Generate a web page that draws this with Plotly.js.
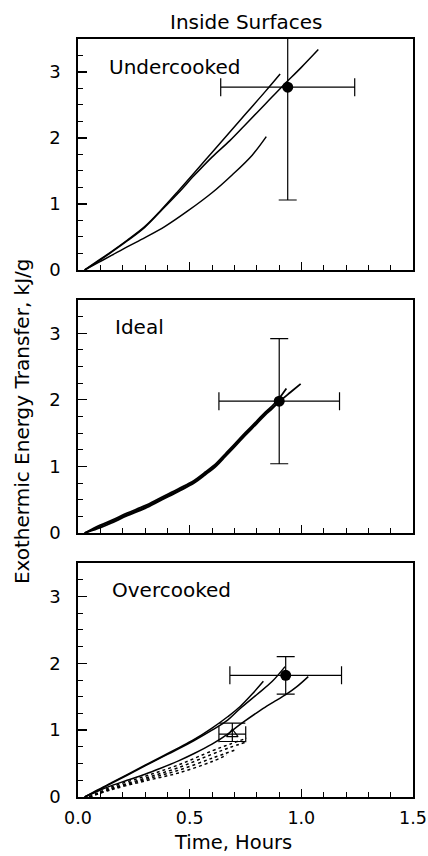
<!DOCTYPE html>
<html>
<head>
<meta charset="utf-8">
<script src="https://cdn.plot.ly/plotly-3.0.1.min.js"></script>
<style>
html,body{margin:0;padding:0;background:#fff;}
#chart{width:428px;height:856px;}
</style>
</head>
<body>
<div id="chart"></div>
<script>
// ---------- Data ----------
const panelNames = ["Undercooked", "Ideal", "Overcooked"];
const xTickVals = [0, 0.5, 1.0, 1.5];
const xTickText = ["0.0", "0.5", "1.0", "1.5"];
const yTickVals = [0, 1, 2, 3];
const yTickText = ["0", "1", "2", "3"];

// Undercooked
const underAx = [0.03, 0.09, 0.15, 0.22, 0.30, 0.37, 0.45, 0.52, 0.60, 0.68, 0.76, 0.84, 0.905];
const underAy = [0.0, 0.14, 0.28, 0.45, 0.66, 0.90, 1.20, 1.47, 1.78, 2.09, 2.40, 2.71, 2.97];
const underBx = [0.03, 0.09, 0.15, 0.22, 0.30, 0.37, 0.45, 0.52, 0.60, 0.68, 0.76, 0.84, 0.92, 1.00, 1.076];
const underBy = [0.0, 0.13, 0.27, 0.44, 0.65, 0.89, 1.17, 1.43, 1.71, 1.96, 2.24, 2.52, 2.80, 3.07, 3.34];
const underCx = [0.03, 0.09, 0.15, 0.22, 0.30, 0.39, 0.49, 0.60, 0.69, 0.78, 0.843];
const underCy = [0.0, 0.11, 0.22, 0.35, 0.49, 0.66, 0.89, 1.17, 1.44, 1.74, 2.02];
const underPtX = [0.939], underPtY = [2.77], underErrX = [0.30], underErrY = [1.71];

// Ideal
const idealAx = [0.03, 0.10, 0.15, 0.22, 0.30, 0.37, 0.45, 0.52, 0.57, 0.62, 0.66, 0.70, 0.75, 0.80, 0.84, 0.87, 0.90, 0.933];
const idealAy = [0.0, 0.12, 0.19, 0.30, 0.41, 0.53, 0.665, 0.79, 0.915, 1.05, 1.19, 1.33, 1.51, 1.68, 1.82, 1.91, 2.02, 2.17];
const idealBx = [0.03, 0.10, 0.15, 0.22, 0.30, 0.37, 0.45, 0.52, 0.57, 0.62, 0.66, 0.70, 0.75, 0.80, 0.84, 0.87, 0.90, 0.95, 0.997];
const idealBy = [0.0, 0.10, 0.17, 0.28, 0.39, 0.51, 0.645, 0.77, 0.895, 1.03, 1.17, 1.31, 1.49, 1.66, 1.80, 1.88, 1.97, 2.11, 2.24];
const idealCx = [0.03, 0.10, 0.15, 0.22, 0.30, 0.37, 0.45, 0.52, 0.57, 0.62, 0.66, 0.70, 0.75, 0.80, 0.84, 0.87, 0.89];
const idealCy = [0.0, 0.08, 0.15, 0.26, 0.37, 0.49, 0.625, 0.75, 0.875, 1.01, 1.15, 1.29, 1.47, 1.64, 1.78, 1.87, 1.94];
const idealPtX = [0.901], idealPtY = [1.98], idealErrX = [0.27], idealErrY = [0.94];

// Overcooked
const overAx = [0.03, 0.09, 0.15, 0.22, 0.30, 0.37, 0.45, 0.52, 0.60, 0.67, 0.725, 0.78, 0.83];
const overAy = [0.0, 0.11, 0.215, 0.335, 0.475, 0.595, 0.735, 0.86, 1.03, 1.20, 1.35, 1.54, 1.73];
const overBx = [0.03, 0.09, 0.15, 0.22, 0.30, 0.37, 0.45, 0.52, 0.60, 0.67, 0.725, 0.80, 0.87, 0.927];
const overBy = [0.0, 0.10, 0.205, 0.325, 0.465, 0.585, 0.72, 0.845, 1.00, 1.15, 1.32, 1.53, 1.73, 1.95];
const overCx = [0.03, 0.09, 0.15, 0.22, 0.30, 0.37, 0.45, 0.52, 0.60, 0.67, 0.70, 0.74, 0.80, 0.845, 0.89, 0.93, 0.98, 1.031];
const overCy = [0.0, 0.09, 0.17, 0.25, 0.34, 0.43, 0.54, 0.65, 0.79, 0.94, 1.02, 1.12, 1.26, 1.36, 1.45, 1.53, 1.65, 1.80];
const overD1x = [0.05, 0.15, 0.30, 0.45, 0.60, 0.68, 0.755];
const overD1y = [0.0, 0.15, 0.31, 0.48, 0.69, 0.79, 0.88];
const overD2x = [0.05, 0.15, 0.30, 0.45, 0.60, 0.68, 0.75];
const overD2y = [0.0, 0.13, 0.28, 0.44, 0.64, 0.74, 0.82];
const overD3x = [0.05, 0.15, 0.30, 0.45, 0.60, 0.70];
const overD3y = [0.0, 0.12, 0.26, 0.40, 0.58, 0.70];
const overD4x = [0.05, 0.15, 0.30, 0.45, 0.60, 0.666];
const overD4y = [0.0, 0.11, 0.24, 0.36, 0.53, 0.63];
const overPtX = [0.93], overPtY = [1.82], overErrX = [0.25], overErrY = [0.28];
const triPtX = [0.691], triPtY = [0.94], triErrX = [0.06], triErrYplus = [0.165], triErrYminus = [0.11];

// ---------- Traces ----------
const FONT = "DejaVu Sans, Arial, sans-serif";
function curve(x, y, xa, ya, dash, w) {
  return {x: x, y: y, xaxis: xa, yaxis: ya, type: "scatter", mode: "lines",
    line: {color: "#000", width: w || 1.5, dash: dash || "solid", shape: "spline", smoothing: 1},
    hoverinfo: "skip", showlegend: false};
}
function point(x, y, ex, ey, xa, ya) {
  return {x: x, y: y, xaxis: xa, yaxis: ya, type: "scatter", mode: "markers",
    marker: {color: "#000", size: 11, symbol: "circle"},
    error_x: {type: "data", array: ex, color: "#000", thickness: 1.2, width: 9},
    error_y: {type: "data", array: ey, color: "#000", thickness: 1.2, width: 9},
    showlegend: false};
}

const traces = [
  curve(underAx, underAy, "x", "y"),
  curve(underBx, underBy, "x", "y"),
  curve(underCx, underCy, "x", "y"),
  point(underPtX, underPtY, underErrX, underErrY, "x", "y"),

  curve(idealAx, idealAy, "x2", "y2", "solid", 1.8),
  curve(idealBx, idealBy, "x2", "y2", "solid", 1.8),
  curve(idealCx, idealCy, "x2", "y2", "solid", 1.8),
  point(idealPtX, idealPtY, idealErrX, idealErrY, "x2", "y2"),

  curve(overD1x, overD1y, "x3", "y3", "dot"),
  curve(overD2x, overD2y, "x3", "y3", "dot"),
  curve(overD3x, overD3y, "x3", "y3", "dot"),
  curve(overD4x, overD4y, "x3", "y3", "dot"),
  curve(overAx, overAy, "x3", "y3"),
  curve(overBx, overBy, "x3", "y3"),
  curve(overCx, overCy, "x3", "y3"),
  point(overPtX, overPtY, overErrX, overErrY, "x3", "y3"),
  {x: triPtX, y: triPtY, xaxis: "x3", yaxis: "y3", type: "scatter", mode: "markers",
   marker: {color: "#000", size: 10, symbol: "triangle-up-open", line: {width: 1.2, color: "#000"}},
   error_x: {type: "data", array: triErrX, color: "#000", thickness: 1.2, width: 8},
   error_y: {type: "data", symmetric: false, array: triErrYplus, arrayminus: triErrYminus, color: "#000", thickness: 1.2, width: 13},
   showlegend: false}
];

// ---------- Layout ----------
function xAxis(anchor, showLabels) {
  return {anchor: anchor, domain: [0, 1], range: [0, 1.5], tickvals: xTickVals, ticktext: xTickText,
    showticklabels: showLabels, ticks: "inside", ticklen: 8, tickwidth: 1.3, tickcolor: "#000",
    minor: {dtick: 0.1, tick0: 0, ticks: "inside", ticklen: 5, tickwidth: 1, tickcolor: "#000"},
    showline: true, linewidth: 1.6, linecolor: "#000", mirror: true, showgrid: false, zeroline: false,
    ticklabelstandoff: 4, tickfont: {family: FONT, size: 17.5, color: "#000"}, fixedrange: true};
}
function yAxis(anchor, domain) {
  return {anchor: anchor, domain: domain, range: [0, 3.5], tickvals: yTickVals, ticktext: yTickText,
    ticks: "inside", ticklen: 9, tickwidth: 1.3, tickcolor: "#000",
    minor: {dtick: 0.25, tick0: 0, ticks: "inside", ticklen: 5, tickwidth: 1, tickcolor: "#000"},
    showline: true, linewidth: 1.6, linecolor: "#000", mirror: true, showgrid: false, zeroline: false,
    ticklabelstandoff: 12, tickfont: {family: FONT, size: 18, color: "#000"}, fixedrange: true};
}

const annFont = {family: FONT, size: 20, color: "#000"};
const layout = {
  width: 428, height: 856,
  margin: {l: 78, r: 15, t: 39, b: 59},
  paper_bgcolor: "#fff", plot_bgcolor: "#fff",
  showlegend: false,
  xaxis: xAxis("y", false),
  yaxis: yAxis("x", [0.6953, 1]),
  xaxis2: xAxis("y2", false),
  yaxis2: yAxis("x2", [0.3483, 0.6557]),
  xaxis3: xAxis("y3", true),
  yaxis3: yAxis("x3", [0, 0.3087]),
  annotations: [
    {text: "Inside Surfaces", xref: "paper", yref: "paper", x: 0.5036, y: 1.0224, xanchor: "center", yanchor: "middle", showarrow: false, font: annFont},
    {text: "Exothermic Energy Transfer, kJ/g", xref: "paper", yref: "paper", x: -0.167, y: 0.496, xanchor: "center", yanchor: "middle", textangle: -90, showarrow: false, font: annFont},
    {text: "Time, Hours", xref: "paper", yref: "paper", x: 0.4627, y: -0.0772, xanchor: "center", yanchor: "bottom", showarrow: false, font: {family: FONT, size: 19.5, color: "#000"}},
    {text: panelNames[0], xref: "x", yref: "y", x: 0.128, y: 3.07, xanchor: "left", yanchor: "middle", showarrow: false, font: annFont},
    {text: panelNames[1], xref: "x2", yref: "y2", x: 0.158, y: 3.09, xanchor: "left", yanchor: "middle", showarrow: false, font: annFont},
    {text: panelNames[2], xref: "x3", yref: "y3", x: 0.143, y: 3.1, xanchor: "left", yanchor: "middle", showarrow: false, font: annFont}
  ]
};

Plotly.newPlot("chart", traces, layout, {staticPlot: true, displayModeBar: false});
</script>
</body>
</html>
